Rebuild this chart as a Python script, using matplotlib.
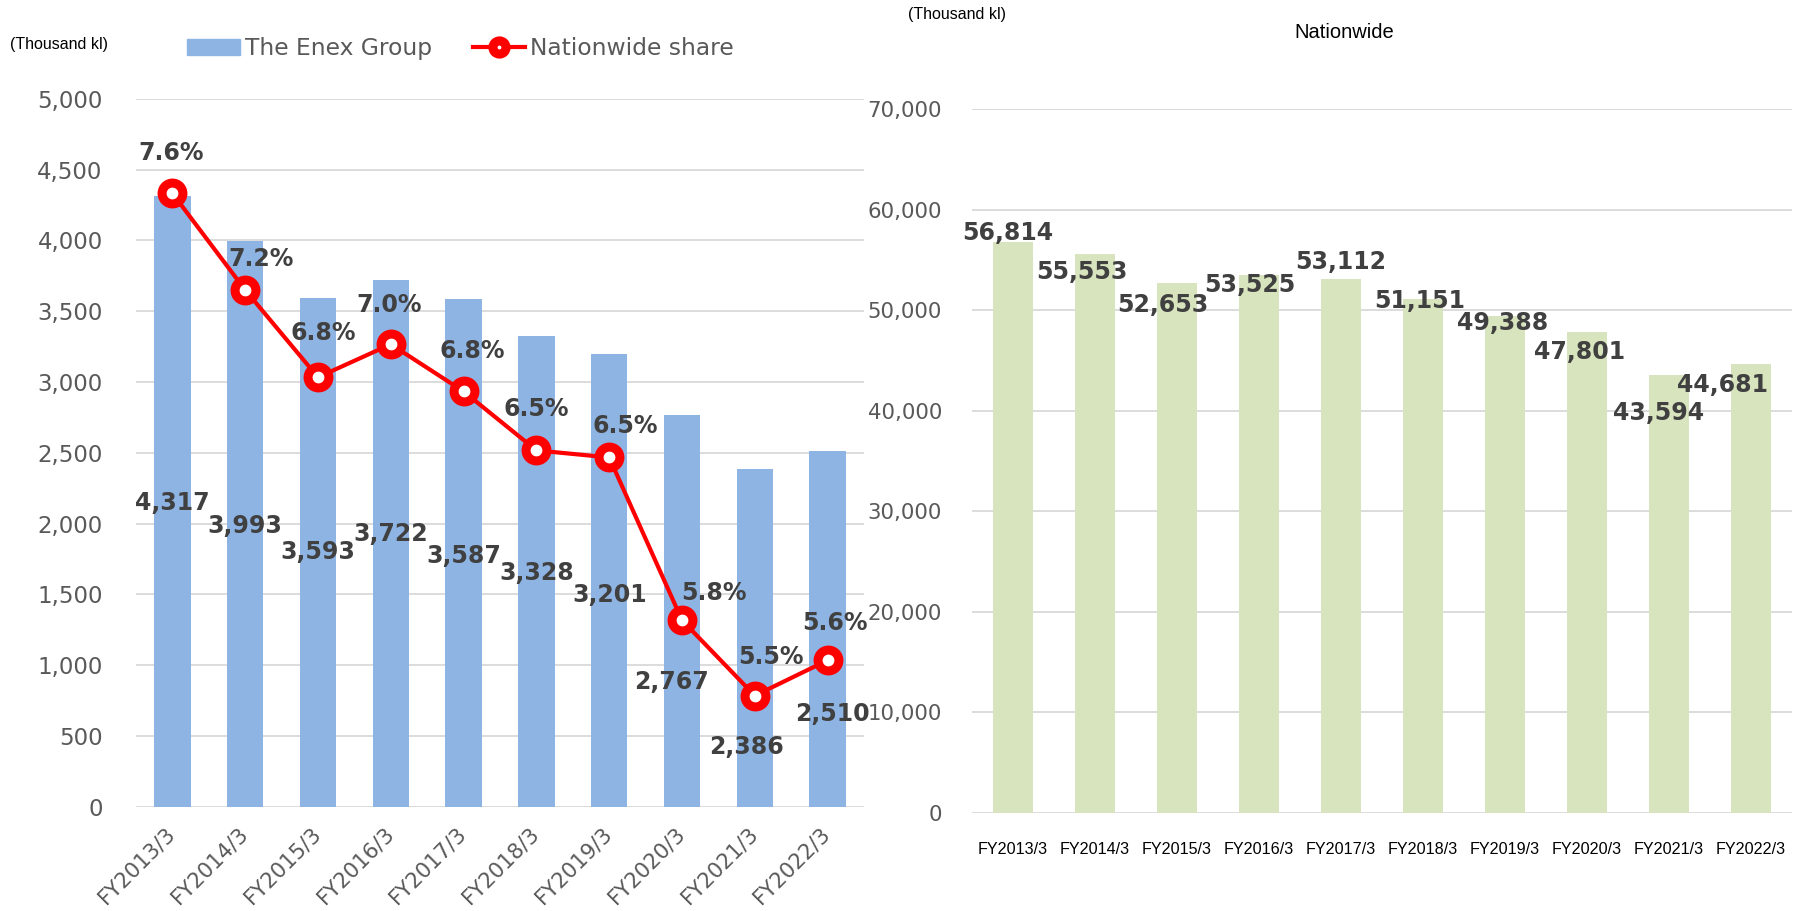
import matplotlib.pyplot as plt
from matplotlib.lines import Line2D
from matplotlib.patches import Patch
from matplotlib.transforms import ScaledTranslation

# data
years = ['FY2013/3', 'FY2014/3', 'FY2015/3', 'FY2016/3', 'FY2017/3',
         'FY2018/3', 'FY2019/3', 'FY2020/3', 'FY2021/3', 'FY2022/3']
enex = [4317, 3993, 3593, 3722, 3587, 3328, 3201, 2767, 2386, 2510]
nation = [56814, 55553, 52653, 53525, 53112, 51151, 49388, 47801, 43594, 44681]
share = [7.60, 7.19, 6.82, 6.96, 6.76, 6.51, 6.48, 5.79, 5.47, 5.62]

# label offsets in pixels (dx, dy downwards)
enex_off = [(0, 307), (0, 285), (0, 254), (0, 254), (0, 257),
            (0, 237), (0, 241), (-10, 267), (-8, 278), (5, 263)]
share_off = [(-1, -40), (16, -31), (5, -44), (-2, -39), (9, -40),
             (0, -41), (16, -31), (32, -27), (16, -39), (7, -37)]
nation_off = [(-5, -9), (-13, 18), (-14, 22), (-9, 10), (0, -17),
              (-3, 2), (-2, 7), (-7, 20), (-10, 38), (-29, 21)]

BLUE = '#8EB4E3'
GREEN = '#D7E4BD'
RED = '#FF0000'
GRID = '#D9D9D9'
TICK = '#595959'
LBL = '#404040'

W, H = 1804, 911
fig = plt.figure(figsize=(W / 100, H / 100), dpi=100)
ax = fig.add_axes([136 / W, (H - 806.5) / H, 728 / W, 707.5 / H])
axr = fig.add_axes([972 / W, (H - 813) / H, 820 / W, 704 / H])

x = list(range(len(years)))

# ---- left chart
ax.bar(x, enex, width=0.5, color=BLUE, zorder=2)
ax.set_xlim(-0.5, 9.5)
ax.set_ylim(0, 5000)
ax.set_yticks(range(0, 5001, 500))
ax.set_yticklabels([f'{v:,}' for v in range(0, 5001, 500)])
ax.grid(axis='y', color=GRID, lw=1.3, zorder=0)
ax.set_axisbelow(True)
for s in ax.spines.values():
    s.set_visible(False)
ax.tick_params(axis='y', length=0, pad=24, labelsize=16.5, labelcolor=TICK)
ax.tick_params(axis='x', length=0, pad=12, labelsize=15.3, labelcolor=TICK)
ax.set_xticks(x)
ax.set_xticklabels(years, rotation=45, ha='right', va='top', rotation_mode='anchor')
for t in ax.get_xticklabels():
    t.set_transform(t.get_transform() + ScaledTranslation(-0.07, 0, fig.dpi_scale_trans))

for i, v in enumerate(enex):
    dx, dy = enex_off[i]
    ax.annotate(f'{v:,}', (i, v), xytext=(dx, -dy), textcoords='offset pixels',
                ha='center', va='center', fontsize=17, fontweight='bold', color=LBL, zorder=5)

ax2 = ax.twinx()
ax2.set_ylim(5, 8)
ax2.axis('off')
ax2.plot(x, share, color=RED, lw=3, marker='o', ms=15, mew=6.5,
         mfc='white', mec=RED, zorder=3)
for i, v in enumerate(share):
    dx, dy = share_off[i]
    ax2.annotate(f'{v:.1f}%', (i, v), xytext=(dx, -dy), textcoords='offset pixels',
                 ha='center', va='center', fontsize=17, fontweight='bold', color=LBL)

fig.text(10 / W, (H - 45) / H, '(Thousand kl)', family='Liberation Sans',
         fontsize=11.5, color='black', ha='left', va='center')

handles = [Patch(color=BLUE),
           Line2D([], [], color=RED, lw=3, marker='o', ms=9.5, mew=6.5, mfc='white', mec=RED)]
fig.legend(handles, ['The Enex Group', 'Nationwide share'], loc='center left',
           bbox_to_anchor=(187 / W, (H - 48.5) / H), ncol=2, frameon=False,
           fontsize=16.8, labelcolor=TICK, borderpad=0, borderaxespad=0,
           handlelength=2.25, handletextpad=0.22, columnspacing=1.75)

# ---- right chart
axr.bar(x, nation, width=0.49, color=GREEN, zorder=2)
axr.set_xlim(-0.5, 9.5)
axr.set_ylim(0, 70000)
axr.set_yticks(range(0, 70001, 10000))
axr.set_yticklabels([f'{v:,}' for v in range(0, 70001, 10000)])
axr.grid(axis='y', color=GRID, lw=1.3, zorder=0)
axr.set_axisbelow(True)
for s in axr.spines.values():
    s.set_visible(False)
axr.tick_params(axis='y', length=0, pad=21.5, labelsize=15.3, labelcolor=TICK)
axr.tick_params(axis='x', length=0, pad=21, labelsize=11.6, labelcolor='black')
axr.set_xticks(x)
axr.set_xticklabels(years, family='Liberation Sans')

for i, v in enumerate(nation):
    dx, dy = nation_off[i]
    axr.annotate(f'{v:,}', (i, v), xytext=(dx, -dy), textcoords='offset pixels',
                 ha='center', va='center', fontsize=17, fontweight='bold', color=LBL, zorder=5)

fig.text(908 / W, (H - 15) / H, '(Thousand kl)', family='Liberation Sans',
         fontsize=11.5, color='black', ha='left', va='center')
fig.text(1344 / W, (H - 33) / H, 'Nationwide', family='Liberation Sans',
         fontsize=14.5, color='black', ha='center', va='center')

fig.savefig('out.png', dpi=100)
